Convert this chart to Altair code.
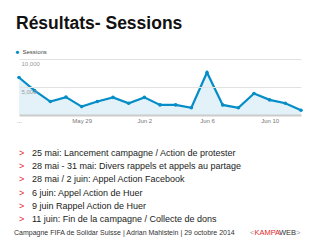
import altair as alt
import pandas as pd

# ---- data ----
dates = ["2014-05-25", "2014-05-26", "2014-05-27", "2014-05-28", "2014-05-29",
         "2014-05-30", "2014-05-31", "2014-06-01", "2014-06-02", "2014-06-03",
         "2014-06-04", "2014-06-05", "2014-06-06", "2014-06-07", "2014-06-08",
         "2014-06-09", "2014-06-10", "2014-06-11", "2014-06-12"]
sessions = [6700, 4350, 2400, 3200, 1500, 2400, 3150, 2100, 3150, 1800,
            1800, 1300, 7600, 1800, 1300, 3850, 2700, 2100, 850]
title_text = "Résultats- Sessions"
legend_text = "Sessions"
bullets = [
    "25 mai: Lancement campagne / Action de protester",
    "28 mai - 31 mai: Divers rappels et appels au partage",
    "28 mai / 2 juin: Appel Action Facebook",
    "6 juin: Appel Action de Huer",
    "9 juin Rappel Action de Huer",
    "11 juin: Fin de la campagne / Collecte de dons",
]
footer_text = "Campagne FIFA de Solidar Suisse | Adrian Mahlstein | 29 octobre 2014"
logo_parts = [("<", "#9a9a9a"), ("KAMPA", "#e3262c"), ("WEB", "#333333"), (">", "#9a9a9a")]

df = pd.DataFrame({"date": dates, "sessions": sessions})

FONT = "Liberation Sans"
BLUE = "#058dc7"
RED = "#e3262c"

xscale = alt.Scale(type="utc",
                   domain=[alt.DateTime(year=2014, month=5, date=25, utc=True),
                           alt.DateTime(year=2014, month=6, date=12, utc=True)])
tick_dates = [alt.DateTime(year=2014, month=5, date=25, utc=True),
              alt.DateTime(year=2014, month=5, date=29, utc=True),
              alt.DateTime(year=2014, month=6, date=2, utc=True),
              alt.DateTime(year=2014, month=6, date=6, utc=True),
              alt.DateTime(year=2014, month=6, date=10, utc=True)]

x = alt.X("date:T", scale=xscale, title=None,
          axis=alt.Axis(values=tick_dates,
                        labelExpr="utcdate(datum.value) == 25 && utcmonth(datum.value) == 4 ? '...' : utcFormat(datum.value, '%b %-d')",
                        grid=False, ticks=False, tickSize=0, labelPadding=2,
                        labelFont=FONT, labelFontSize=6, labelColor="#777777",
                        domainColor="#cccccc", domainWidth=2, labelFlush=False,
                        labelOverlap=False, zindex=1))
y = alt.Y("sessions:Q", scale=alt.Scale(domain=[0, 10000], nice=False), title=None,
          axis=alt.Axis(values=[5000, 10000], format=",.0f", grid=True, gridColor="#e2e2e2",
                        ticks=False, tickSize=0, domain=False,
                        labelAlign="left", labelPadding=-2, labelOffset=4,
                        labelBaseline="middle", labelOverlap=False, labelFlush=False,
                        labelFont=FONT, labelFontSize=6, labelColor="#999999",
                        zindex=1))

base = alt.Chart(df)
area = base.mark_area(color="#e3f1f9", opacity=1).encode(x=x, y=y)
line = base.mark_line(color=BLUE, strokeWidth=2.2).encode(x=x, y=y)
pts = base.mark_point(color=BLUE, filled=True, size=13, opacity=1).encode(x=x, y=y)

layers = [area, line, pts]

def txt(s, xv, yv, size, color, weight="normal", baseline="middle", align="left"):
    return alt.Chart(pd.DataFrame({"t": [s]})).mark_text(
        font=FONT, fontSize=size, color=color, fontWeight=weight,
        baseline=baseline, align=align
    ).encode(x=alt.value(xv), y=alt.value(yv), text="t:N")

# title (plot origin at 19, 59)
layers.append(txt(title_text, -3, -29.7, 17.5, "#111111", weight="bold", baseline="alphabetic"))
# legend
layers.append(alt.Chart(pd.DataFrame({"t": [legend_text]})).mark_point(
    color=BLUE, filled=True, size=10, opacity=1
).encode(x=alt.value(-1.5), y=alt.value(-6.7)))
layers.append(txt(legend_text, 3.5, -6.7, 6, "#444444"))

# bullets
y0 = 152.6 - 59
for i, b in enumerate(bullets):
    yy = y0 + i * 13.3
    layers.append(txt(">", 0, yy, 9, RED))
    layers.append(txt(b, 13, yy, 9, "#222222"))

# footer
layers.append(txt(footer_text, -5, 232.7 - 59, 7, "#333333"))
# logo
lx = 250 - 19
widths = {"<": 4.4, "KAMPA": 24.5, "WEB": 17.0, ">": 4.4}
for part, col in logo_parts:
    layers.append(txt(part, lx, 232.7 - 59, 7.5, col))
    lx += widths[part]

chart = alt.layer(*layers).properties(
    width=282, height=56,
    autosize=alt.AutoSizeParams(type="none"),
    padding={"left": 19, "top": 59, "right": 19, "bottom": 125},
    background="white",
).configure_view(stroke=None)

chart.save("out.html", embed_options={"renderer": "svg", "actions": False})
